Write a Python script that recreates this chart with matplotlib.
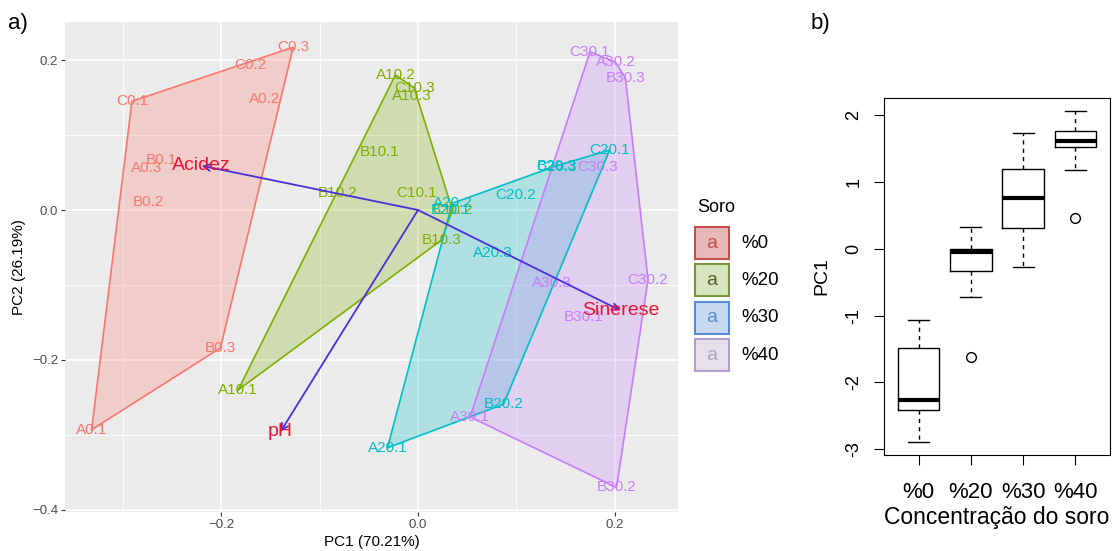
import matplotlib.pyplot as plt
from matplotlib.patches import Rectangle
import numpy as np

plt.rcParams['font.family'] = ['Liberation Sans', 'DejaVu Sans']

## dados do PCA (escores das amostras)
grupos = ['%0', '%20', '%30', '%40']
cores = ['#F8766D', '#7CAE00', '#00BFC4', '#C77CFF']

soro0_rotulos = ['A0.1', 'A0.2', 'A0.3', 'B0.1', 'B0.2', 'B0.3', 'C0.1', 'C0.2', 'C0.3']
soro0_pc1 = [-0.332, -0.156, -0.276, -0.261, -0.274, -0.201, -0.291, -0.171, -0.127]
soro0_pc2 = [-0.293, 0.148, 0.056, 0.067, 0.011, -0.184, 0.145, 0.193, 0.217]

soro20_rotulos = ['A10.1', 'A10.2', 'A10.3', 'B10.1', 'B10.2', 'B10.3', 'C10.1', 'C10.2', 'C10.3']
soro20_pc1 = [-0.183, -0.023, -0.006, -0.039, -0.082, 0.024, -0.001, 0.035, -0.004]
soro20_pc2 = [-0.240, 0.180, 0.152, 0.077, 0.023, -0.040, 0.023, 0.000, 0.163]

soro30_rotulos = ['A20.1', 'A20.2', 'A20.3', 'B20.1', 'B20.2', 'B20.3', 'C20.1', 'C20.2', 'C20.3']
soro30_pc1 = [-0.031, 0.035, 0.076, 0.033, 0.087, 0.141, 0.195, 0.099, 0.141]
soro30_pc2 = [-0.317, 0.009, -0.057, 0.000, -0.259, 0.059, 0.080, 0.020, 0.057]

soro40_rotulos = ['A30.1', 'A30.2', 'A30.3', 'B30.1', 'B30.2', 'B30.3', 'C30.1', 'C30.2', 'C30.3']
soro40_pc1 = [0.053, 0.201, 0.136, 0.168, 0.202, 0.211, 0.175, 0.234, 0.183]
soro40_pc2 = [-0.276, 0.197, -0.097, -0.143, -0.370, 0.176, 0.211, -0.093, 0.057]

## variaveis (setas)
variaveis = ['Acidez', 'pH', 'Sinerese']
var_pc1 = [-0.220, -0.140, 0.206]
var_pc2 = [0.059, -0.296, -0.134]

## boxplot do PC1
box_med = [-2.26, -0.05, 0.76, 1.62]
box_q1 = [-2.41, -0.34, 0.31, 1.53]
box_q3 = [-1.48, 0.00, 1.20, 1.77]
box_min = [-2.89, -0.72, -0.27, 1.18]
box_max = [-1.07, 0.32, 1.73, 2.06]
box_out = [[], [-1.62], [], [0.46]]


def casco(xs, ys):
    # casco convexo (monotone chain)
    pts = sorted(zip(xs, ys))
    def cross(o, a, b):
        return (a[0] - o[0]) * (b[1] - o[1]) - (a[1] - o[1]) * (b[0] - o[0])
    baixo = []
    for p in pts:
        while len(baixo) >= 2 and cross(baixo[-2], baixo[-1], p) <= 0:
            baixo.pop()
        baixo.append(p)
    cima = []
    for p in reversed(pts):
        while len(cima) >= 2 and cross(cima[-2], cima[-1], p) <= 0:
            cima.pop()
        cima.append(p)
    return baixo[:-1] + cima[:-1]


fig = plt.figure(figsize=(11.15, 5.51), dpi=100)

## ---- a) biplot ----
ax = fig.add_axes([65 / 1115, 1 - 512 / 551, 613 / 1115, 490 / 551])
ax.set_facecolor('#EBEBEB')
ax.set_xlim(-0.3591, 0.2645)
ax.set_ylim(-0.4027, 0.2507)
ax.set_xticks([-0.2, 0.0, 0.2])
ax.set_yticks([-0.4, -0.2, 0.0, 0.2])
ax.set_xticks([-0.3, -0.1, 0.1], minor=True)
ax.set_yticks([-0.3, -0.1, 0.1], minor=True)
ax.grid(which='major', color='white', lw=1.2)
ax.grid(which='minor', color='white', lw=0.6)
ax.set_axisbelow(True)
for s in ax.spines.values():
    s.set_visible(False)
ax.tick_params(which='major', length=3, width=0.8, color='#333333',
               labelcolor='#4D4D4D', labelsize=9.5, pad=2)
ax.tick_params(which='minor', length=0)
ax.set_xlabel('PC1 (70.21%)', fontsize=11, labelpad=3)
ax.set_ylabel('PC2 (26.19%)', fontsize=11, labelpad=4)

series = [
    (soro0_rotulos, soro0_pc1, soro0_pc2),
    (soro20_rotulos, soro20_pc1, soro20_pc2),
    (soro30_rotulos, soro30_pc1, soro30_pc2),
    (soro40_rotulos, soro40_pc1, soro40_pc2),
]
for (rot, xs, ys), cor in zip(series, cores):
    h = np.array(casco(xs, ys))
    ax.fill(h[:, 0], h[:, 1], color=cor, alpha=0.25, lw=0)
    hx = np.append(h[:, 0], h[0, 0])
    hy = np.append(h[:, 1], h[0, 1])
    ax.plot(hx, hy, color=cor, lw=1.2)
for (rot, xs, ys), cor in zip(series, cores):
    for r, x, y in zip(rot, xs, ys):
        ax.text(x, y, r, color=cor, fontsize=11, ha='center', va='center')

for nome, x, y in zip(variaveis, var_pc1, var_pc2):
    ax.annotate('', xy=(x, y), xytext=(0, 0),
                arrowprops=dict(arrowstyle='->', color='#4A30DA', lw=1.3,
                                mutation_scale=12, shrinkA=0, shrinkB=0))
    ax.text(x, y, nome, color='#EE1133', fontsize=14, ha='center', va='center')

fig.text(18 / 1115, 1 - 23 / 551, 'a)', fontsize=16, ha='center', va='center')

## legenda
leg = fig.add_axes([690 / 1115, 1 - 380 / 551, 110 / 1115, 185 / 551])
leg.set_xlim(690, 800)
leg.set_ylim(380, 195)
leg.axis('off')
leg.text(697, 208, 'Soro', fontsize=13, ha='left', va='center')
leg_fundo = ['#E6B9B8', '#D7E4BD', '#C6D9F1', '#E6E0EC']
leg_borda = ['#C0504D', '#77933C', '#558ED5', '#B3A2C7']
leg_letra = ['#C0504D', '#4F6228', '#558ED5', '#B3A2C7']
for i, g in enumerate(grupos):
    y0 = 227 + i * 37.5
    leg.add_patch(Rectangle((695, y0), 34, 32, facecolor=leg_fundo[i],
                            edgecolor=leg_borda[i], lw=1.5))
    leg.text(712, y0 + 16, 'a', color=leg_letra[i], fontsize=14,
             ha='center', va='center')
    leg.text(741, y0 + 16, g, fontsize=13.5, ha='left', va='center')

## ---- b) boxplot ----
ax2 = fig.add_axes([884 / 1115, 1 - 455 / 551, 226 / 1115, 357 / 551])
stats = []
for i in range(4):
    stats.append(dict(med=box_med[i], q1=box_q1[i], q3=box_q3[i],
                      whislo=box_min[i], whishi=box_max[i], fliers=box_out[i]))
ax2.bxp(stats, positions=[1, 2, 3, 4], widths=0.8, capwidths=0.4,
        boxprops=dict(color='black', lw=1),
        medianprops=dict(color='black', lw=3, solid_capstyle='butt'),
        whiskerprops=dict(color='black', lw=1, linestyle=(0, (3, 3))),
        capprops=dict(color='black', lw=1),
        flierprops=dict(marker='o', markerfacecolor='none',
                        markeredgecolor='black', markersize=7, markeredgewidth=1))
ax2.set_xlim(0.34, 4.66)
ax2.set_ylim(-3.088, 2.258)
ax2.set_xticks([1, 2, 3, 4], grupos)
ax2.set_yticks([-3, -2, -1, 0, 1, 2], ['-3', '-2', '-1', '0', '1', '2'],
               rotation=90, va='center')
ax2.tick_params(axis='x', length=7.5, width=0.8, labelsize=16, pad=12)
ax2.tick_params(axis='y', length=7.5, width=0.8, labelsize=13, pad=8)
for s in ax2.spines.values():
    s.set_linewidth(0.8)
ax2.set_xlabel('Concentração do soro', fontsize=16.5, labelpad=2)
ax2.set_ylabel('PC1', fontsize=14, labelpad=11)

fig.text(820 / 1115, 1 - 24 / 551, 'b)', fontsize=16, ha='center', va='center')

plt.savefig('out.png', dpi=100)
